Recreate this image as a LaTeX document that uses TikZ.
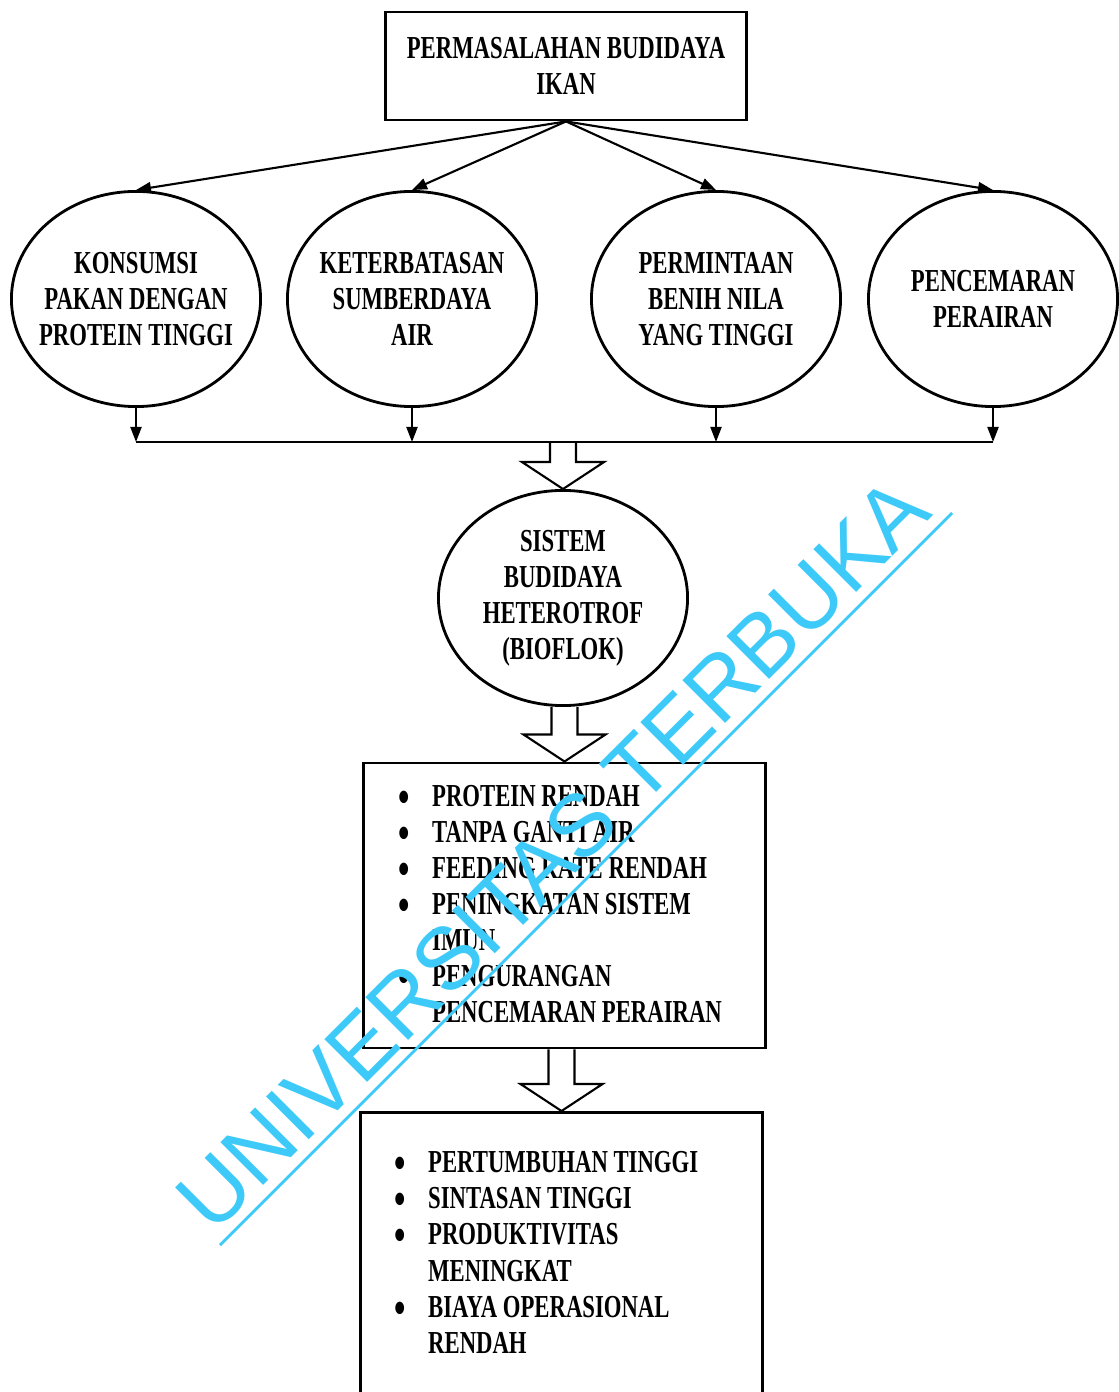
\documentclass[tikz,border=0pt]{standalone}
\usepackage{fontspec}
\setmainfont{Liberation Serif}[FakeStretch=0.71]
\newfontfamily\wmfont{Liberation Sans}
\usetikzlibrary{shapes.geometric,arrows.meta,calc}
\definecolor{wmcyan}{RGB}{62,202,248}

\newcommand{\itm}{\makebox[0.34cm][l]{\raisebox{-1.7pt}{\fontsize{13pt}{0pt}\selectfont\textbullet}}}
\newcommand{\nitm}{\hspace*{0.34cm}}
% open block arrow from #1 down to #2
\newcommand{\hollowarrow}[2]{%
\draw[hollow] ($(#1 -| #2)+(-13,0)$) -- ($(#2)+(-13,-27)$) -- ($(#2)+(-41,-27)$)
  -- (#2) -- ($(#2)+(41,-27)$) -- ($(#2)+(13,-27)$) -- ($(#1 -| #2)+(13,0)$);}

\tikzset{
  every node/.style={font=\bfseries\fontsize{9.1pt}{10.25pt}\selectfont},
  problem/.style={draw, thick, minimum width=3.6cm, minimum height=1.08cm, inner sep=0, align=center},
  cause/.style={ellipse, draw, thick, minimum width=2.49cm, minimum height=2.15cm,
    inner xsep=-0.1cm, inner ysep=0, align=center},
  result/.style={draw, thick, minimum width=4.01cm, inner sep=0},
  items/.style={anchor=north west, inner sep=0, align=left},
  link/.style={semithick, -{Triangle[length=0.15cm,width=0.11cm]}},
  hollow/.style={semithick, line join=miter},
  wm/.style={anchor=base west, rotate=45, inner sep=0, text=wmcyan,
    font=\wmfont\fontsize{25pt}{25pt}\selectfont}
}

\begin{document}
\begin{tikzpicture}[x=0.01cm, y=-0.01cm]
\useasboundingbox (0,0) rectangle (1118,1392);

\node[problem] (title) at (566,66) {PERMASALAHAN BUDIDAYA\\IKAN};

\node[cause] (k1) at (136,299) {KONSUMSI\\PAKAN DENGAN\\PROTEIN TINGGI};
\node[cause] (k2) at (412,299) {KETERBATASAN\\SUMBERDAYA\\AIR};
\node[cause] (k3) at (716,299) {PERMINTAAN\\BENIH NILA\\YANG TINGGI};
\node[cause] (k4) at (993,299) {PENCEMARAN\\PERAIRAN};

\foreach \k in {k1,k2,k3,k4}
  \draw[link] (title.south) -- (\k.north);

\coordinate (bus) at (563,442);
\foreach \k in {k1,k2,k3,k4}
  \draw[link] (\k.south) -- (\k.south |- bus);
\draw[semithick] (k1.south |- bus) -- (k4.south |- bus);

\node[cause] (bioflok) at (563,598) {SISTEM\\BUDIDAYA\\HETEROTROF\\(BIOFLOK)};

\node[result, minimum height=2.85cm] (box1) at (564.5,905.5) {};
\node[items] (list1) at ($(box1.north west)+(35,23)$) {%
  \itm PROTEIN RENDAH\\
  \itm TANPA GANTI AIR\\
  \itm FEEDING RATE RENDAH\\
  \itm PENINGKATAN SISTEM\\
  \nitm IMUN\\
  \itm PENGURANGAN\\
  \nitm PENCEMARAN PERAIRAN};

\node[result, minimum height=3.2cm, anchor=north] (box2) at (561.5,1111) {};
\node[items] (list2) at ($(box2.north west)+(34,40)$) {%
  \itm PERTUMBUHAN TINGGI\\
  \itm SINTASAN TINGGI\\
  \itm PRODUKTIVITAS\\
  \nitm MENINGKAT\\
  \itm BIAYA OPERASIONAL\\
  \nitm RENDAH};

\hollowarrow{bus}{bioflok.north}
\hollowarrow{bioflok.south}{box1.north}
\hollowarrow{box1.south}{box2.north}

% watermark
\node[wm] (mark) at (213,1236) {UNIVERSITAS TERBUKA};
\draw[wmcyan, thick] (220,1245) -- (952,513);
\end{tikzpicture}
\end{document}
